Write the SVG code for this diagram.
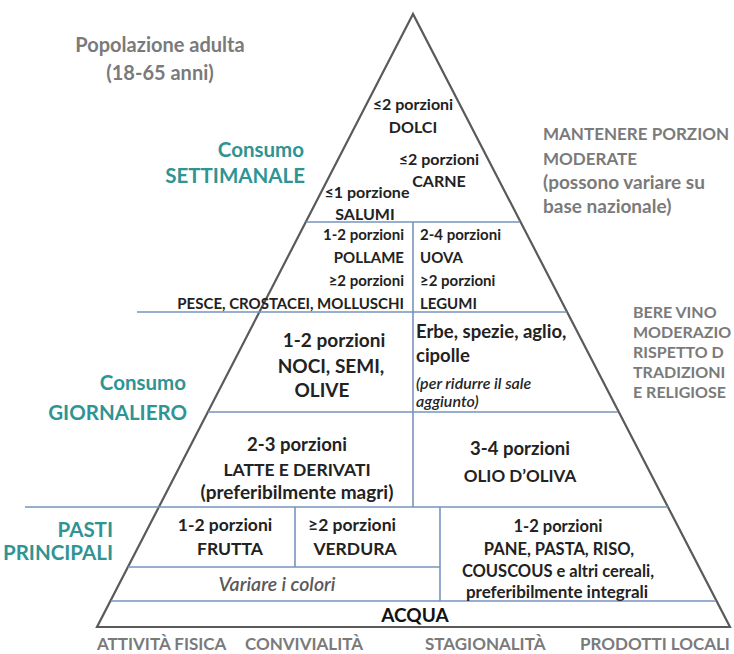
<svg xmlns="http://www.w3.org/2000/svg" width="734" height="654" viewBox="0 0 734 654">
<style>
text{font-family:Lato,"Liberation Sans",sans-serif;}
.b{fill:#222222;font-weight:700;}
.s15{font-size:15px;}
.s16{font-size:16px;}
.s17{font-size:17.5px;}
.s19{font-size:19px;}
.it{fill:#262626;font-style:italic;font-size:16px;font-weight:600;}
.teal{fill:#2e9494;font-weight:700;font-size:20.5px;text-anchor:end;}
.grey{fill:#7a7a7a;font-weight:700;font-size:17px;}
.c{text-anchor:middle;}
.e{text-anchor:end;}
.hl{stroke:#7693bf;stroke-width:1.6;fill:none;}
.tri{stroke:#5a5a5a;stroke-width:2.2;fill:none;stroke-linejoin:miter;}
</style>
<rect width="734" height="654" fill="#ffffff"/>
<g id="connectors">
<polygon class="tri" points="413,14 97,627 730,627"/>
<line class="hl" x1="306" y1="222" x2="520" y2="222"/>
<line class="hl" x1="137" y1="312" x2="567" y2="312"/>
<line class="hl" x1="208" y1="412" x2="618" y2="412"/>
<line class="hl" x1="25" y1="507" x2="668" y2="507"/>
<line class="hl" x1="128" y1="567" x2="440" y2="567"/>
<line class="hl" x1="111" y1="601" x2="716" y2="601"/>
<line class="hl" x1="413" y1="222" x2="413" y2="507"/>
<line class="hl" x1="295" y1="507" x2="295" y2="567"/>
<line class="hl" x1="440" y1="507" x2="440" y2="601"/>
</g>
<g id="title">
<text class="grey c" x="160" y="52" style="font-size:20px">Popolazione adulta</text>
<text class="grey c" x="160" y="80" style="font-size:20px">(18-65 anni)</text>
</g>
<g id="label-settimanale">
<text class="teal" x="304" y="157">Consumo</text>
<text class="teal" x="305" y="183">SETTIMANALE</text>
</g>
<g id="label-giornaliero">
<text class="teal" x="186" y="390">Consumo</text>
<text class="teal" x="187" y="420">GIORNALIERO</text>
</g>
<g id="label-pasti">
<text class="teal" x="113" y="537">PASTI</text>
<text class="teal" x="113" y="560">PRINCIPALI</text>
</g>
<g id="note-porzioni">
<text class="grey" x="543" y="140">MANTENERE PORZION</text>
<text class="grey" x="543" y="165">MODERATE</text>
<text class="grey" x="543" y="189" style="font-size:19px">(possono variare su</text>
<text class="grey" x="543" y="213" style="font-size:19px">base nazionale)</text>
</g>
<g id="note-vino">
<text class="grey" x="633" y="318" style="font-size:16px">BERE VINO</text>
<text class="grey" x="633" y="338" style="font-size:16px">MODERAZIO</text>
<text class="grey" x="633" y="358" style="font-size:16px">RISPETTO D</text>
<text class="grey" x="633" y="378" style="font-size:16px">TRADIZIONI</text>
<text class="grey" x="633" y="398" style="font-size:16px">E RELIGIOSE</text>
</g>
<g id="node-dolci">
<text class="b s16 c" x="413" y="110">≤2 porzioni</text>
<text class="b s16 c" x="413" y="133">DOLCI</text>
</g>
<g id="node-carne">
<text class="b s16 c" x="439" y="165">≤2 porzioni</text>
<text class="b s16 c" x="439" y="187">CARNE</text>
</g>
<g id="node-salumi">
<text class="b s16 c" x="367" y="198">≤1 porzione</text>
<text class="b s16 c" x="365" y="220">SALUMI</text>
</g>
<g id="node-pollame-pesce">
<text class="b s15 e" x="404" y="240">1-2 porzioni</text>
<text class="b s15 e" x="404" y="263">POLLAME</text>
<text class="b s15 e" x="404" y="286">≥2 porzioni</text>
<text class="b s15 e" x="404" y="309">PESCE, CROSTACEI, MOLLUSCHI</text>
</g>
<g id="node-uova-legumi">
<text class="b s15" x="420" y="240">2-4 porzioni</text>
<text class="b s15" x="420" y="263">UOVA</text>
<text class="b s15" x="420" y="286">≥2 porzioni</text>
<text class="b s15" x="420" y="309">LEGUMI</text>
</g>
<g id="node-noci">
<text class="b s19 c" x="334" y="347">1-2 porzioni</text>
<text class="b s19 c" x="331" y="373">NOCI, SEMI,</text>
<text class="b s19 c" x="322" y="397">OLIVE</text>
</g>
<g id="node-erbe">
<text class="b" x="416" y="338" style="font-size:18.5px">Erbe, spezie, aglio,</text>
<text class="b" x="416" y="362" style="font-size:18.5px">cipolle</text>
<text class="it" x="416" y="389">(per ridurre il sale</text>
<text class="it" x="416" y="407">aggiunto)</text>
</g>
<g id="node-latte">
<text class="b c" x="297" y="451" style="font-size:18.5px">2-3 porzioni</text>
<text class="b c" x="297" y="476" style="font-size:17.5px">LATTE E DERIVATI</text>
<text class="b c" x="297" y="499" style="font-size:19px">(preferibilmente magri)</text>
</g>
<g id="node-olio">
<text class="b c" x="520" y="455" style="font-size:18.5px">3-4 porzioni</text>
<text class="b c" x="520" y="482" style="font-size:17px">OLIO D’OLIVA</text>
</g>
<g id="node-frutta">
<text class="b s17 c" x="225" y="531">1-2 porzioni</text>
<text class="b s17 c" x="230" y="555">FRUTTA</text>
</g>
<g id="node-verdura">
<text class="b s17 c" x="352" y="531">≥2 porzioni</text>
<text class="b s17 c" x="355" y="555">VERDURA</text>
</g>
<g id="node-colori">
<text class="c" x="277" y="591" style="font-size:19.5px;font-style:italic;font-weight:600;fill:#5a5a5a">Variare i colori</text>
</g>
<g id="node-cereali">
<text class="b c" x="558" y="532" style="font-size:16.5px">1-2 porzioni</text>
<text class="b c" x="559" y="555" style="font-size:16.5px">PANE, PASTA, RISO,</text>
<text class="b c" x="558" y="577" style="font-size:16.5px">COUSCOUS e altri cereali,</text>
<text class="b c" x="557" y="598" style="font-size:17px">preferibilmente integrali</text>
</g>
<g id="node-acqua">
<text class="c" x="415" y="622" style="font-size:19px;font-weight:700;fill:#111">ACQUA</text>
</g>
<g id="footer">
<text class="grey" x="97" y="650">ATTIVITÀ FISICA</text>
<text class="grey" x="245" y="650">CONVIVIALITÀ</text>
<text class="grey" x="425" y="650">STAGIONALITÀ</text>
<text class="grey" x="580" y="650">PRODOTTI LOCALI</text>
</g>
</svg>
